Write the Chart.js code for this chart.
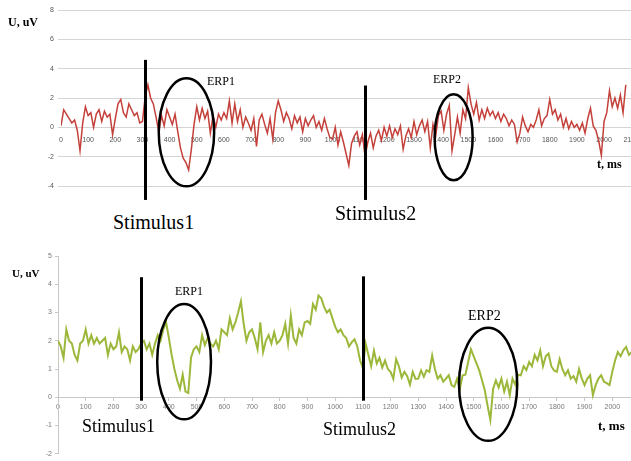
<!DOCTYPE html>
<html>
<head>
<meta charset="utf-8">
<script src="https://cdn.jsdelivr.net/npm/chart.js@4"></script>
<style>
    body { margin:0; background:#fff; width:631px; height:461px; overflow:hidden; position:relative; }
    .box { position:absolute; left:0; }
    .lbl { position:absolute; font-family:'Liberation Serif', 'Times New Roman', serif; line-height:1; white-space:nowrap; color:#000; }
    .b { font-weight:bold; }
</style>
</head>
<body>
<div class="box" style="top:0"><canvas id="topChart" width="648" height="206"></canvas></div>
<div class="box" style="top:240px"><canvas id="bottomChart" width="655" height="221"></canvas></div>

<div class="lbl b" style="left:8px;top:16px;font-size:12px">U, uV</div>
<div class="lbl" style="left:207px;top:75px;font-size:12px">ERP1</div>
<div class="lbl" style="left:433px;top:73px;font-size:12px">ERP2</div>
<div class="lbl b" style="left:597px;top:158px;font-size:12px">t, ms</div>
<div class="lbl" style="left:113px;top:212px;font-size:20px">Stimulus1</div>
<div class="lbl" style="left:335px;top:203px;font-size:20px">Stimulus2</div>

<div class="lbl b" style="left:12px;top:268px;font-size:11px">U, uV</div>
<div class="lbl" style="left:175px;top:285px;font-size:12px">ERP1</div>
<div class="lbl" style="left:468px;top:309px;font-size:14px">ERP2</div>
<div class="lbl b" style="left:598px;top:419px;font-size:13px">t, ms</div>
<div class="lbl" style="left:82px;top:417px;font-size:18px">Stimulus1</div>
<div class="lbl" style="left:323px;top:420px;font-size:18px">Stimulus2</div>

<script>
// один отсчёт каждые 10 мс, от 0 до 2080 мс
const sampleMs = 10;

// верхняя запись (красная), мкВ
const redUv = [
    0.1, 1.2, 0.9, 0.6, 0.3, 0.5, -0.2, -1.6, 0.3, 1.4,
    0.8, 1.0, 0.0, 0.9, 1.2, 0.4, 1.1, 0.7, 0.9, -0.5,
    0.6, 1.6, 1.9, 1.0, 0.7, 1.6, 1.2, 0.8, 1.0, 0.3,
    0.4, 2.1, 2.9, 2.0, 1.6, 0.7, -0.3, 0.8, 0.1, 1.2,
    0.7, 0.2, 0.9, -0.3, -1.4, -2.1, -2.4, -2.9, -1.5, 0.2,
    1.4, 0.5, 1.3, 0.6, 1.1, -0.4, 0.8, 0.0, 0.9, 0.5,
    1.0, 0.6, 1.8, 0.3, 1.6, 0.4, 1.2, 0.0, 0.7, 0.3,
    -0.2, 0.6, -1.3, 0.5, 0.9, 0.2, -0.4, 0.6, -0.8, 1.0,
    1.8, 1.2, 0.4, 1.0, 0.6, -0.1, 0.8, 0.3, 0.7, -0.3,
    0.6, 0.1, 0.5, 0.8, 0.0, 0.4, -0.2, 0.6, -0.1, -0.7,
    -0.8, 0.0, -1.2, -0.3, -1.0, -1.8, -2.6, -1.1, -0.6, -0.3,
    -1.2, -0.5, -2.0, -1.0, -0.4, -1.4, -0.6, -0.2, -0.9, 0.0,
    -0.6, 0.1, -0.7, -0.1, -0.5, 0.1, -1.5, -0.6, -0.1, -0.7,
    0.4, -0.5, 0.1, 0.5, -0.3, 0.4, -1.4, 0.2, -0.6, 0.8,
    1.1, -0.2, 0.9, 1.5, -1.6, -0.5, 0.7, -0.4, 1.2, 0.6,
    2.7, 1.6, 0.9, 1.7, 0.5, 1.2, 0.6, 1.3, 0.8, 1.1,
    0.6, 1.0, 0.4, 0.9, 0.6, 0.1, 0.5, 0.2, -1.0, -0.4,
    0.7, 0.1, -0.3, 0.2, 0.0, 0.5, 1.2, 0.1, 0.6, 0.8,
    1.9, 0.9, 1.2, 0.5, 0.9, 0.0, 0.6, -0.1, 0.4, 0.0,
    0.2, -0.2, 0.3, -0.4, 0.6, 1.3, 0.1, -0.2, -0.9, -1.9,
    0.4, 1.0, 2.5, 1.4, 2.0, 1.3, 2.2, 1.0, 2.9
];

// нижняя запись (зелёная), мкВ
const greenUv = [
    2.0, 1.8, 1.4, 2.4, 2.0, 1.9, 1.5, 1.3, 1.9, 2.0,
    2.4, 1.9, 2.2, 1.9, 2.1, 1.9, 2.0, 2.1, 1.5, 1.9,
    1.7, 1.8, 2.3, 1.6, 1.8, 1.7, 1.3, 1.8, 1.6, 1.7,
    1.9, 2.0, 1.7, 1.9, 1.5, 1.9, 2.2, 2.0, 2.4, 2.65,
    2.1, 1.5, 1.0, 0.6, 0.3, 0.8, 0.2, 0.15, 1.4, 1.7,
    1.8, 1.6, 2.2, 1.85, 2.1, 1.9, 1.8, 2.0, 1.7, 2.4,
    2.3, 2.2, 2.8, 2.4, 2.65, 3.0, 3.4, 2.6, 2.0, 2.3,
    2.4, 2.1, 1.7, 2.65, 1.6, 2.0, 2.2, 1.9, 2.3, 1.9,
    2.0, 2.2, 2.6, 1.9, 2.9, 2.1, 1.9, 2.4, 2.2, 2.65,
    2.7, 2.6, 3.3, 3.1, 3.6, 3.5, 3.2, 3.0, 3.1, 2.8,
    2.5, 2.3, 2.4, 2.2, 2.1, 1.8, 1.95, 2.05, 1.8, 1.3,
    1.05, 1.9, 1.5, 1.1, 1.65, 1.2, 1.4, 1.05, 1.3, 1.0,
    0.9, 0.65, 1.35, 1.1, 0.7, 0.9, 0.75, 0.45, 0.9, 0.65,
    0.66, 0.95, 0.73, 0.96, 0.9, 1.48, 1.0, 0.66, 0.78, 0.55,
    0.66, 0.78, 0.43, 0.37, 0.66, 0.3, 0.78, 0.8, 1.25, 1.7,
    1.45, 1.2, 0.95, 0.6, 0.25, -0.3, -0.8, 0.3, 0.6, 0.35,
    0.66, 0.2, 0.55, 0.08, 0.66, 0.45, 0.8, 0.78, 1.1, 0.96,
    1.25, 1.1, 1.5, 1.3, 1.66, 1.1, 1.45, 1.55, 1.1, 0.95,
    0.9, 1.35, 1.0, 0.78, 0.96, 0.66, 0.75, 0.55, 1.0, 0.66,
    0.43, 0.66, 0.78, 0.08, 0.43, 0.66, 0.78, 0.55, 0.5, 0.43,
    0.9, 1.3, 1.6, 1.45, 1.66, 1.78, 1.5, 1.6, 1.65
];

const xTickMs = [0, 100, 200, 300, 400, 500, 600, 700, 800, 900, 1000,
    1100, 1200, 1300, 1400, 1500, 1600, 1700, 1800, 1900, 2000, 2100];
const topTickUv = [-4, -2, 0, 2, 4, 6, 8];
const bottomTickUv = [-2, -1, 0, 1, 2, 3, 4, 5];

// стимулы (мс) и области ERP (центр мс / мкВ, полуоси мс / мкВ)
const topStimuli = [{t: 308, from: 4.6, to: -4.95}, {t: 1120, from: 2.85, to: -4.95}];
const topErps = [{t: 462, v: -0.34, dt: 102, dv: 3.68}, {t: 1446, v: -0.68, dt: 70, dv: 2.93}];
const bottomStimuli = [{t: 300, from: 4.25, to: -0.12}, {t: 1101, from: 4.28, to: -0.12}];
const bottomErps = [{t: 455, v: 1.26, dt: 97, dv: 2.04}, {t: 1552, v: 0.46, dt: 105, dv: 2.0}];

const timeMs = redUv.map((v, i) => i * sampleMs);

const marksPlugin = {
    id: 'marks',
    afterDatasetsDraw(chart, args, opts) {
        const ctx = chart.ctx;
        const x = chart.scales.x, y = chart.scales.y;
        ctx.save();
        ctx.strokeStyle = '#000';
        opts.stimuli.forEach(function(s) {
            let px = Math.round(x.getPixelForValue(s.t)) + 0.5;
            ctx.lineWidth = 3;
            ctx.beginPath();
            ctx.moveTo(px, y.getPixelForValue(s.from));
            ctx.lineTo(px, y.getPixelForValue(s.to));
            ctx.stroke();
        });
        opts.erps.forEach(function(e) {
            let cx = x.getPixelForValue(e.t), cy = y.getPixelForValue(e.v);
            let rx = x.getPixelForValue(e.t + e.dt) - cx;
            let ry = cy - y.getPixelForValue(e.v + e.dv);
            ctx.lineWidth = 2.5;
            ctx.beginPath();
            ctx.ellipse(cx, cy, rx, ry, 0, 0, Math.PI * 2);
            ctx.stroke();
        });
        ctx.restore();
    }
};

function setTicks(list) {
    return function(scale) {
        scale.ticks = list.map(function(v) { return {value: v}; });
    };
}
function plainLabel(value) { return String(value); }

var topChart = new Chart(document.getElementById('topChart'), {
    type: 'line',
    data: {
        labels: timeMs,
        datasets: [{
            data: redUv,
            borderColor: '#c4403a',
            borderWidth: 1.5,
            pointRadius: 0,
            tension: 0
        }]
    },
    options: {
        responsive: false,
        animation: false,
        layout: { padding: {left: 0, top: 10, right: 13, bottom: 20} },
        plugins: {
            legend: {display: false},
            tooltip: {enabled: false},
            marks: {stimuli: topStimuli, erps: topErps}
        },
        scales: {
            x: {
                type: 'linear', min: 0, max: 2100,
                position: {y: 0},
                afterBuildTicks: setTicks(xTickMs),
                grid: {display: false, drawTicks: false},
                border: {display: false},
                ticks: {callback: plainLabel, color: '#555', font: {size: 7, family: 'Liberation Sans'}, padding: 9, maxRotation: 0, autoSkip: false}
            },
            y: {
                min: -4, max: 8,
                afterBuildTicks: setTicks(topTickUv),
                afterFit: function(scale) { scale.width = 61; },
                grid: {color: '#d4d4d4', tickLength: 3},
                border: {display: false},
                ticks: {callback: plainLabel, color: '#555', font: {size: 7, family: 'Liberation Sans'}, padding: 4}
            }
        }
    },
    plugins: [marksPlugin]
});

var bottomChart = new Chart(document.getElementById('bottomChart'), {
    type: 'line',
    data: {
        labels: timeMs,
        datasets: [{
            data: greenUv,
            borderColor: '#9cb83a',
            borderWidth: 2,
            pointRadius: 0,
            tension: 0
        }]
    },
    options: {
        responsive: false,
        animation: false,
        layout: { padding: {left: 0, top: 16, right: 15, bottom: 6} },
        plugins: {
            legend: {display: false},
            tooltip: {enabled: false},
            marks: {stimuli: bottomStimuli, erps: bottomErps}
        },
        scales: {
            x: {
                type: 'linear', min: 0, max: 2100,
                position: {y: 0},
                afterBuildTicks: setTicks(xTickMs),
                grid: {drawOnChartArea: false, drawTicks: true, tickLength: 3, color: '#c8c8c8'},
                border: {display: true, color: '#c8c8c8'},
                ticks: {callback: plainLabel, color: '#777', font: {size: 7, family: 'Liberation Sans'}, padding: 3, maxRotation: 0, autoSkip: false}
            },
            y: {
                min: -2, max: 5,
                afterBuildTicks: setTicks(bottomTickUv),
                afterFit: function(scale) { scale.width = 58; },
                grid: {drawOnChartArea: false, drawTicks: true, tickLength: 3, color: '#c8c8c8'},
                border: {display: true, color: '#c8c8c8'},
                ticks: {callback: plainLabel, color: '#777', font: {size: 7, family: 'Liberation Sans'}, padding: 3}
            }
        }
    },
    plugins: [marksPlugin]
});
</script>
</body>
</html>
